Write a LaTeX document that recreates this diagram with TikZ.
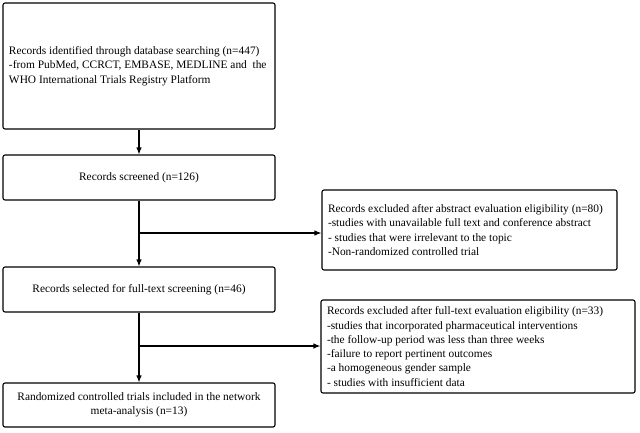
\documentclass[tikz,border=0pt]{standalone}
\usepackage{fontspec}
\setmainfont{Liberation Serif}
\usetikzlibrary{arrows.meta}
\begin{document}
\begin{tikzpicture}[x=1pt,y=-1pt,
  box/.style={draw, line width=1.1pt, rounded corners=2pt, inner ysep=0pt, font=\fontsize{11.4}{14.3}\selectfont},
  arr/.style={-{Latex[length=7pt,width=5.5pt]}, line width=1.1pt}]
\useasboundingbox (0,0) rectangle (640,432);
\node[box, minimum width=272, minimum height=126, text width=260, inner xsep=6pt, align=flush left] (b1) at (139,66)
 {Records identified through database searching (n=447)\\-from PubMed, CCRCT, EMBASE, MEDLINE and\ \ the\\WHO International Trials Registry Platform};
\node[box, minimum width=272, minimum height=45] (b2) at (139,177.5) {Records screened (n=126)};
\node[box, minimum width=272, minimum height=45] (b3) at (139,289.5) {Records selected for full-text screening (n=46)};
\node[box, minimum width=272, minimum height=44, align=center] (b4) at (139,405) {Randomized controlled trials included in the network\\meta-analysis (n=13)};
\node[box, minimum width=295, minimum height=80, text width=283, inner xsep=6pt, align=flush left] (r1) at (469.5,230)
 {Records excluded after abstract evaluation eligibility (n=80)\\-studies with unavailable full text and conference abstract\\- studies that were irrelevant to the topic\\-Non-randomized controlled trial};
\node[box, minimum width=314, minimum height=93, text width=302, inner xsep=6pt, align=flush left] (r2) at (478,346.5)
 {Records excluded after full-text evaluation eligibility (n=33)\\-studies that incorporated pharmaceutical interventions\\-the follow-up period was less than three weeks\\-failure to report pertinent outcomes\\-a homogeneous gender sample\\- studies with insufficient data};
\coordinate (j1) at (139,233);
\coordinate (j2) at (139,346);
\draw[arr] (b1) -- (b2);
\draw[arr] (b2) -- (b3);
\draw[arr] (b3) -- (b4);
\draw[arr] (j1) -- (r1.west |- j1);
\draw[arr] (j2) -- (r2.west |- j2);
\end{tikzpicture}
\end{document}
